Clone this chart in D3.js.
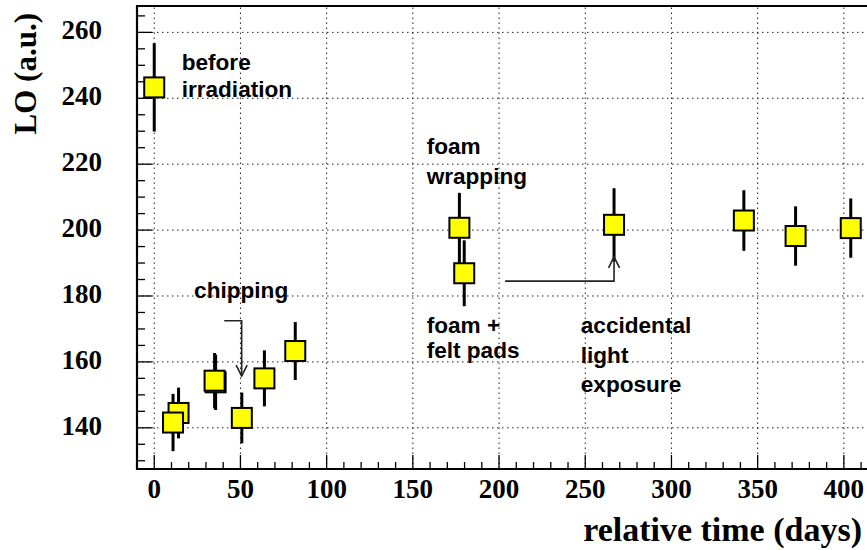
<!DOCTYPE html>
<html>
<head>
<meta charset="utf-8">
<script src="https://cdn.jsdelivr.net/npm/d3@7"></script>
<style>
  body { margin: 0; background: #fff; }
  .tickLabel { font-family: 'Liberation Serif', 'Times New Roman', serif; font-weight: bold; font-size: 27px; }
  .axisTitle { font-family: 'Liberation Serif', 'Times New Roman', serif; font-weight: bold; }
  .note { font-family: 'Liberation Sans', Arial, sans-serif; font-weight: bold; font-size: 22.6px; }
</style>
</head>
<body>
<script>
  // measurements (days since start, light output, error)
  const days = [0, 10.9, 14.1, 35.0, 35.6, 50.8, 63.9, 81.8, 177.0, 179.8, 266.7, 342.0, 372.0, 404.0];
  const lo = [243.3, 141.6, 144.5, 154.3, 153.8, 143.0, 155.0, 163.3, 200.7, 186.9, 201.6, 202.9, 198.2, 200.6];
  const loErr = [13.4, 8.7, 7.7, 8.4, 8.4, 7.7, 8.5, 8.8, 10.6, 10.0, 11.1, 9.2, 9.0, 9.0];

  const xTicks = [0, 50, 100, 150, 200, 250, 300, 350, 400];
  const yTicks = [140, 160, 180, 200, 220, 240, 260];

  // annotations: text lines at (day, LO) of baseline start
  const notes = [
    { day: 15.9, lo: 248.6, text: 'before' },
    { day: 15.9, lo: 240.5, text: 'irradiation' },
    { day: 158.0, lo: 223.1, text: 'foam' },
    { day: 158.0, lo: 213.9, text: 'wrapping' },
    { day: 23.1, lo: 179.3, text: 'chipping' },
    { day: 158.0, lo: 168.7, text: 'foam +' },
    { day: 158.0, lo: 161.1, text: 'felt pads' },
    { day: 247.4, lo: 168.7, text: 'accidental' },
    { day: 247.4, lo: 159.8, text: 'light' },
    { day: 247.4, lo: 151.0, text: 'exposure' },
  ];
  const arrows = [
    [[40.6, 172.5], [50.7, 172.5], [50.7, 155.7]],
    [[203.5, 184.5], [266.7, 184.5], [266.7, 191.9]],
  ];

  const width = 867;
  const height = 550;
  const margin = { top: 6, right: -1, bottom: 81, left: 137 };

  const svg = d3.select('body').append('svg')
    .attr('width', width)
    .attr('height', height);

  const x = d3.scaleLinear().domain([-10, 414]).range([margin.left, width - margin.right]);
  const y = d3.scaleLinear().domain([127.5, 268]).range([height - margin.bottom, margin.top]);

  const x0 = x.range()[0], x1 = x.range()[1];
  const y0 = y.range()[0], y1 = y.range()[1];

  // grid
  const grid = svg.append('g').attr('stroke', '#222').attr('stroke-width', 1).attr('stroke-dasharray', '1.5,3.5');
  grid.selectAll('.gx').data(xTicks).enter().append('line')
    .attr('x1', (d) => x(d)).attr('x2', (d) => x(d)).attr('y1', y0).attr('y2', y1);
  grid.selectAll('.gy').data(yTicks).enter().append('line')
    .attr('x1', x0).attr('x2', x1).attr('y1', (d) => y(d)).attr('y2', (d) => y(d));

  // ticks (inward)
  const ticks = svg.append('g').attr('stroke', '#000').attr('stroke-width', 1.3);
  const xMinor = d3.range(-10, 415, 10);
  ticks.selectAll('.tx').data(xMinor).enter().append('line')
    .attr('x1', (d) => x(d)).attr('x2', (d) => x(d))
    .attr('y1', y0).attr('y2', (d) => y0 - (d % 50 === 0 ? 14 : 7));
  const yMinor = d3.range(130, 268, 5);
  ticks.selectAll('.ty').data(yMinor).enter().append('line')
    .attr('y1', (d) => y(d)).attr('y2', (d) => y(d))
    .attr('x1', x0).attr('x2', (d) => x0 + (d % 20 === 0 ? 15 : 8));

  // frame
  svg.append('path')
    .attr('d', `M${x1},${y1}H${x0}V${y0}H${x1}`)
    .attr('fill', 'none').attr('stroke', '#000').attr('stroke-width', 2.2);

  // tick labels
  svg.selectAll('.xl').data(xTicks).enter().append('text')
    .attr('class', 'tickLabel').attr('text-anchor', 'middle')
    .attr('x', (d) => x(d)).attr('y', y0 + 29).text((d) => d);
  svg.selectAll('.yl').data(yTicks).enter().append('text')
    .attr('class', 'tickLabel').attr('text-anchor', 'end')
    .attr('x', x0 - 35).attr('y', (d) => y(d) + 7).text((d) => d);

  // axis titles
  svg.append('text').attr('class', 'axisTitle')
    .attr('font-size', 34).attr('text-anchor', 'end')
    .attr('x', 862).attr('y', 541).text('relative time (days)');
  svg.append('text').attr('class', 'axisTitle')
    .attr('font-size', 31).attr('text-anchor', 'end')
    .attr('transform', 'translate(36,13) rotate(-90)').text('LO (a.u.)');

  // error bars
  const pts = days.map((d, i) => ({ day: d, lo: lo[i], err: loErr[i] }));
  svg.append('g').selectAll('line').data(pts).enter().append('line')
    .attr('x1', (d) => x(d.day)).attr('x2', (d) => x(d.day))
    .attr('y1', (d) => y(d.lo + d.err)).attr('y2', (d) => y(d.lo - d.err))
    .attr('stroke', '#000').attr('stroke-width', 3);

  // markers
  const half = 10;
  svg.append('g').selectAll('rect').data(pts.slice().reverse()).enter().append('rect')
    .attr('x', (d) => x(d.day) - half).attr('y', (d) => y(d.lo) - half)
    .attr('width', half * 2).attr('height', half * 2)
    .attr('fill', '#ffff00').attr('stroke', '#000').attr('stroke-width', 2);

  // arrows
  const line = d3.line().x((p) => x(p[0])).y((p) => y(p[1]));
  arrows.forEach((a) => {
    svg.append('path').attr('d', line(a))
      .attr('fill', 'none').attr('stroke', '#222').attr('stroke-width', 1.6);
    const tip = a[a.length - 1];
    const prev = a[a.length - 2];
    const tx = x(tip[0]), ty = y(tip[1]);
    const dir = Math.sign(y(tip[1]) - y(prev[1]));
    svg.append('path')
      .attr('d', `M${tx - 5.5},${ty - dir * 11}L${tx},${ty}L${tx + 5.5},${ty - dir * 11}`)
      .attr('fill', 'none').attr('stroke', '#222').attr('stroke-width', 1.6);
  });

  // notes
  svg.selectAll('.note').data(notes).enter().append('text')
    .attr('class', 'note')
    .attr('x', (d) => x(d.day)).attr('y', (d) => y(d.lo)).text((d) => d.text);
</script>
</body>
</html>
